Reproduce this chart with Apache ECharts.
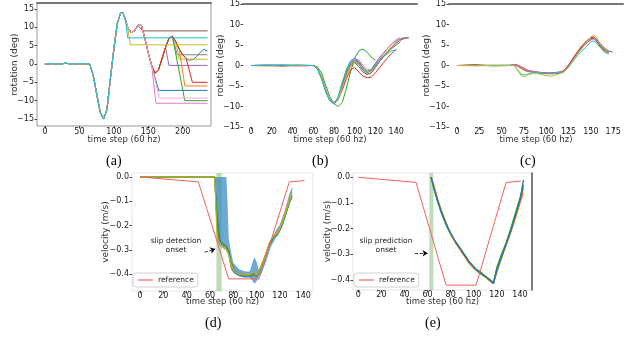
<!DOCTYPE html>
<html>
<head>
<meta charset="utf-8">
<script src="https://cdn.jsdelivr.net/npm/echarts@6.0.0/dist/echarts.min.js"></script>
<style>
html, body { margin: 0; padding: 0; background: #fff; }
#main { width: 640px; height: 353px; }
</style>
</head>
<body>
<div id="main"></div>
<script>
// tab10 colours, like matplotlib
const C = {blue:'#1f77b4', orange:'#ff7f0e', green:'#2ca02c', red:'#d62728', purple:'#9467bd',
  brown:'#8c564b', pink:'#e377c2', gray:'#7f7f7f', olive:'#bcbd22', cyan:'#17becf'}

// ---- (a) rotation, trials that stop and hold ----
const aTime = [0,10,20,30,40,50,60,65,70,75,80,85,90,95,100,105,110,113,117,120,125,130,135,140,145,150,155,160,165,170,175,180,185,190,195,200,205,210,215,220,225,230,236]
const aMean = [0,0.1,-0.1,0.2,-0.1,0.1,0,0,-3,-8,-13,-15,-12.5,-4,4,11,14,14,12,10,8.5,9,10.5,10.5,7,3,-0.5,-2.5,-1.5,1.5,4.5,7,7.5,6,4,2.5,1.5,1,1.2,2,3,4,3.5]
const aHoldColor = ['blue','pink','purple','gray','olive','green','orange','red','brown','olive','pink','cyan']
const aHoldFrom  = [158, 156, 177, 189, 190, 186, 196, 205, 138, 120, 159, 117]
const aHoldAt    = [165, 161, 180, 192, 195, 203, 203, 214, 142, 124, 166, 120]
const aHoldLevel = [-7.2, -10.7, -0.4, 2.5, 1.3, -10, -6, -5, 9, 5.2, -9.3, 7.1]
const aEnd = 236

// ---- (b) rotation ----
const bTime = [0,15,30,45,60,64,68,72,76,80,84,88,92,96,100,104,108,112,116,120,124,128,132,136,140,144,148,152]
const bBlue   = [0,0,0.1,0,0,-0.8,-3.2,-6.3,-8.6,-9.3,-8,-4.8,-1.5,0.6,1.5,0.8,-0.6,-1.6,-1.2,0.3,1.5,2.5,3.3,4.2,5,5.8,null,null]
const bOrange = [0,0.1,0,-0.1,0,-0.6,-2.8,-6,-8.4,-9.2,-8.3,-5.5,-2.5,-0.2,0.8,0.2,-1,-2,-1.8,-0.3,1,2.2,3.3,4.4,5.4,6.3,6.7,null]
const bGreen  = [0,-0.1,0.1,0,0,-0.3,-1.8,-4.8,-7.6,-9.3,-10,-9,-5.5,-1.5,1.8,3.6,4,3.2,2,1.3,null,null,null,null,null,null,null,null]
const bRed    = [0,0,-0.1,0.1,0,-0.7,-3,-6.2,-8.5,-9,-8.2,-6,-3.2,-1,-0.5,-1.6,-2.6,-3,-2.8,-1.8,-0.5,0.8,2,3,4,null,null,null]
const bPurple = [0,0.1,0,0,0,-0.7,-3,-6.2,-8.6,-9.4,-8,-4.5,-1,1.2,1.8,1,-0.5,-1.4,-0.9,0.6,2,3.2,4.3,5.3,6,6.5,6.8,6.7]
const bBrown  = [0,0,-0.1,0,0,-0.6,-2.9,-6,-8.5,-9.2,-8.4,-5.2,-2,0.2,0.7,-0.3,-1.6,-2.2,-1.8,-0.5,1,2.3,3.5,4.6,5.6,6.2,6.6,6.8]
const bPink   = [0,0,0.1,-0.1,0,-0.5,-2.6,-5.8,-8.2,-9,-8.3,-5.6,-2.2,0.5,1.6,1.4,0,-1,-1,0,1.6,3,4.3,5.4,6.3,6.8,null,null]
const bGray   = [0,0.1,0,0,0,-0.7,-3,-6.2,-8.5,-9.2,-8.1,-5,-1.8,0.4,1.2,0.6,-0.8,-1.6,-1.3,0,1.3,2.5,3.6,4.6,5.5,6.2,6.6,null]
const bOlive  = [0,0,0,0,0,-0.6,-2.8,-6,-8.4,-9.1,-8.2,-5.4,-2.4,0,0.9,0.4,-0.8,-1.5,-1.4,-0.2,1.2,2.5,3.6,4.7,5.6,6.3,null,null]
const bCyan   = [0,0,0,0.1,0,-0.8,-3.3,-6.4,-8.6,-9.3,-7.6,-4,-1,1,1.3,0.2,-1.2,-1.8,-1.2,0,1.2,2.2,3,3.6,3.8,null,null,null]

// ---- (c) rotation ----
const cTime = [0,20,40,60,64,68,72,76,80,85,90,95,100,105,110,115,120,125,130,135,140,145,150,153,156,160,165,170,174]
const cBlue   = [0,0,0,0.1,0.2,0,-0.6,-1,-1.3,-1.5,-1.7,-1.8,-1.9,-2,-2,-1.9,-1.5,-0.3,1.4,3,4.3,5.4,6.5,6.8,6.5,5.5,4.2,3.5,3.3]
const cOrange = [0,0.1,0,0,0.1,-0.2,-0.8,-1.3,-1.5,-1.6,-1.8,-2,-2,-1.9,-1.8,-1.7,-1.3,0,1.5,3.2,4.6,5.8,6.8,7,6.3,4.8,3.5,3,null]
const cGreen  = [0,0,0,0,0.1,-0.1,-0.6,-1.1,-1.4,-1.6,-1.7,-1.8,-1.9,-1.9,-1.8,-1.6,-1.3,0,1.5,3.1,4.4,5.5,6.3,6.5,6,4.8,3.7,3.2,null]
const cRed    = [0,0.2,-0.1,0,0.3,0.1,-0.3,-0.8,-1.2,-1.4,-1.6,-1.7,-1.8,-1.8,-1.7,-1.6,-1.2,0.2,1.8,3.4,4.8,6,6.8,6.9,6.3,5,3.8,3.2,null]
const cPurple = [0,0,0,0,0.2,0,-0.5,-1,-1.3,-1.6,-1.8,-1.9,-2,-2,-1.9,-1.7,-1.3,-0.1,1.5,3,4.4,5.6,6.4,6.6,6.4,5.5,4.3,3.5,3.3]
const cPink   = [0,0,0,0,0.2,0,-0.5,-0.9,-1.2,-1.5,-1.7,-1.8,-1.9,-1.9,-1.8,-1.7,-1.3,-0.2,1.3,2.9,4.2,5.4,6.2,6.5,6.2,5.2,4,3.3,null]
const cCyan   = [0,0,0.1,0,0,-1,-2.2,-2.3,-2,-1.7,-1.6,-1.8,-2,-2,-1.9,-1.8,-1.5,-0.5,1,2.5,3.6,4.6,5.8,6,5.6,4.5,3.3,2.8,null]
const cOlive  = [0,-0.1,0,0,0,-1.2,-2.5,-2.7,-2.3,-2,-2,-2.2,-2.5,-2.6,-2.4,-2,-1.6,-0.3,1.2,2.8,4.2,5.6,7,7.4,7,5.5,4,3,null]

// ---- (d) velocity, slip detection ----
const dTime   = [0,64,66,68,70,73,76,78,81,85,90,95,98,100,103,107,111,115,118,122,126,130]
const dGray   = [0,0,-0.2,-0.26,-0.27,-0.28,-0.3,-0.36,-0.39,-0.4,-0.405,-0.4,-0.4,-0.405,-0.38,-0.33,-0.27,-0.24,-0.235,-0.19,-0.13,-0.07]
const dBlue   = [0,0,-0.15,-0.25,-0.28,-0.285,-0.31,-0.37,-0.395,-0.405,-0.41,-0.405,-0.395,-0.41,-0.385,-0.335,-0.28,-0.245,-0.24,-0.2,-0.14,-0.08]
const dOrange = [0,0,-0.22,-0.27,-0.28,-0.29,-0.32,-0.37,-0.39,-0.4,-0.4,-0.41,-0.4,-0.4,-0.375,-0.325,-0.27,-0.24,-0.23,-0.185,-0.12,-0.065]
const dGreen  = [0,0,-0.18,-0.26,-0.275,-0.28,-0.305,-0.35,-0.385,-0.4,-0.405,-0.41,-0.405,-0.41,-0.38,-0.33,-0.275,-0.245,-0.235,-0.195,-0.135,-0.075]
const dOlive  = [0,0,-0.25,-0.27,-0.285,-0.29,-0.32,-0.36,-0.39,-0.4,-0.405,-0.4,-0.39,-0.405,-0.38,-0.33,-0.27,-0.24,-0.235,-0.19,-0.13,-0.07]
const dBandTime  = [64,65,66,68,70,73,74,75,76,78,80,85,90,94,96,98,100,102,104,108,112,116,120,124,128,130.5]
const dBandUpper = [0,0,0,0,0,0,0,-0.1,-0.25,-0.31,-0.355,-0.38,-0.39,-0.39,-0.36,-0.33,-0.35,-0.385,-0.375,-0.325,-0.265,-0.225,-0.195,-0.14,-0.07,-0.04]
const dBandLower = [0,-0.1,-0.26,-0.28,-0.29,-0.3,-0.3,-0.31,-0.33,-0.38,-0.395,-0.41,-0.415,-0.415,-0.425,-0.44,-0.43,-0.41,-0.4,-0.35,-0.29,-0.255,-0.225,-0.17,-0.11,-0.09]

// ---- (e) velocity, slip prediction ----
const eTime   = [63,66,69,72,75,78,81,84,87,90,93,96,99,102,105,108,111,114,117,120,124,128,132,136,140,143]
const eBlue   = [0,-0.05,-0.095,-0.135,-0.17,-0.2,-0.225,-0.25,-0.27,-0.29,-0.31,-0.33,-0.345,-0.36,-0.37,-0.38,-0.39,-0.4,-0.413,-0.36,-0.31,-0.26,-0.21,-0.15,-0.09,-0.01]
const eOrange = [0,-0.04,-0.09,-0.13,-0.165,-0.2,-0.23,-0.255,-0.275,-0.295,-0.315,-0.335,-0.35,-0.362,-0.372,-0.383,-0.392,-0.405,-0.41,-0.37,-0.315,-0.265,-0.215,-0.16,-0.1,-0.06]
const eGreen  = [0,-0.055,-0.1,-0.14,-0.175,-0.205,-0.23,-0.25,-0.268,-0.288,-0.308,-0.328,-0.343,-0.358,-0.365,-0.378,-0.388,-0.398,-0.41,-0.35,-0.3,-0.255,-0.2,-0.14,-0.08,-0.03]
const eGray   = [0,-0.045,-0.092,-0.133,-0.168,-0.202,-0.228,-0.252,-0.272,-0.292,-0.312,-0.332,-0.347,-0.36,-0.375,-0.38,-0.39,-0.402,-0.415,-0.365,-0.312,-0.262,-0.208,-0.155,-0.095,-0.04]

// reference trajectory (same for d and e)
const refTime = [0,50,76,102,128,141]
const refVel  = [0,-0.02,-0.42,-0.42,-0.02,-0.015]

// tick labels
const rotTicks = [-15,-10,-5,0,5,10,15]
const velTicks = [-0.4,-0.3,-0.2,-0.1,0]
const aXTicks = [0,50,100,150,200]
const bXTicks = [0,20,40,60,80,100,120,140]
const cXTicks = [0,25,50,75,100,125,150,175]
const deXTicks = [0,20,40,60,80,100,120,140]

const pair = (xs, ys) => xs.map((x, i) => [x, ys[i]])
const minus = s => String(s).replace('-', '\u2212')

const font = 'DejaVu Sans'
function xAx(grid, min, max, ticks, gap, margin) {
  return {
    type: 'value', gridIndex: grid, min: min, max: max,
    name: 'time step (60 hz)', nameLocation: 'middle', nameGap: gap, nameMoveOverlap: false,
    nameTextStyle: {fontFamily: font, fontSize: 8.5, color: '#333', verticalAlign: 'top'},
    axisLine: {show: false, onZero: false},
    axisTick: {show: true, length: 2.5, lineStyle: {color: '#444'}, customValues: ticks},
    axisLabel: {fontFamily: font, fontSize: 8, color: '#222', margin: margin, customValues: ticks},
    splitLine: {show: false}
  }
}
function yAx(grid, min, max, ticks, name, gap, fmt) {
  return {
    type: 'value', gridIndex: grid, min: min, max: max,
    name: name, nameLocation: 'middle', nameGap: gap, nameMoveOverlap: false,
    nameTextStyle: {fontFamily: font, fontSize: 9, color: '#333'},
    axisLine: {show: false, onZero: false},
    axisTick: {show: true, length: 2.5, lineStyle: {color: '#444'}, customValues: ticks},
    axisLabel: {fontFamily: font, fontSize: 8, color: '#222', margin: 3, customValues: ticks, formatter: fmt},
    splitLine: {show: false}
  }
}
function topLine(grid) {
  return {type: 'value', gridIndex: grid, position: 'top', min: 0, max: 1,
    axisLine: {show: true, onZero: false, lineStyle: {color: '#777', width: 2}},
    axisTick: {show: false}, axisLabel: {show: false}, splitLine: {show: false}}
}
const rotFmt = v => minus(v)
const velFmt = v => minus(v.toFixed(1) === '-0.0' ? '0.0' : v.toFixed(1))

function trace(xi, data, color, width) {
  return {type: 'line', xAxisIndex: xi, yAxisIndex: xi, data: data, showSymbol: false, symbol: 'none',
    connectNulls: false, animation: false, silent: true,
    lineStyle: {color: color, width: width || 1}, z: 3}
}

const series = []

// (a)
series.push(trace(0, pair(aTime, aMean), C.blue))
aHoldColor.forEach((c, k) => {
  const pts = pair(aTime, aMean).filter(p => p[0] <= aHoldFrom[k])
  pts.push([aHoldAt[k], aHoldLevel[k]], [aEnd, aHoldLevel[k]])
  series.push(trace(0, pts, c === 'pink' && k === 10 ? '#f2a8dc' : C[c]))
})

// (b)
;[[bBlue,'blue'],[bOrange,'orange'],[bGreen,'green'],[bRed,'red'],[bPurple,'purple'],[bBrown,'brown'],
  [bPink,'pink'],[bGray,'gray'],[bOlive,'olive'],[bCyan,'cyan']].forEach(s => series.push(trace(1, pair(bTime, s[0]), C[s[1]])))

// (c)
;[[cBlue,'blue'],[cOrange,'orange'],[cGreen,'green'],[cRed,'red'],[cPurple,'purple'],[cPink,'pink'],
  [cCyan,'cyan'],[cOlive,'olive']].forEach(s => series.push(trace(2, pair(cTime, s[0]), C[s[1]])))

// (d) blue spread band
series.push({
  type: 'custom', xAxisIndex: 3, yAxisIndex: 3, data: [0], silent: true, animation: false, z: 2,
  renderItem: (params, api) => {
    const up = dBandTime.map((t, i) => api.coord([t, dBandUpper[i]]))
    const lo = dBandTime.map((t, i) => api.coord([t, dBandLower[i]])).reverse()
    return {type: 'polygon', shape: {points: up.concat(lo)}, style: {fill: 'rgba(60,140,195,0.75)'}}
  }
})
;[[dGray,'gray'],[dBlue,'blue'],[dOrange,'orange'],[dGreen,'green'],[dOlive,'olive']]
  .forEach(s => series.push(trace(3, pair(dTime, s[0]), C[s[1]], 1)))
series.push({
  name: 'reference', type: 'line', xAxisIndex: 3, yAxisIndex: 3, data: pair(refTime, refVel),
  showSymbol: false, symbol: 'none', animation: false, lineStyle: {color: '#f26060', width: 1}, itemStyle: {color: '#f26060'}, z: 4,
  markArea: {silent: true, itemStyle: {color: 'rgba(150,195,135,0.6)'}, data: [[{xAxis: 65.5}, {xAxis: 70}]]},
  markLine: {silent: true, symbol: ['none', 'arrow'], symbolSize: 5, label: {show: false},
    lineStyle: {color: '#000', type: 'dashed', width: 0.8},
    data: [[{coord: [55.5, -0.31]}, {coord: [64.5, -0.297]}]]}
})

// (e)
;[[eGray,'gray'],[eGreen,'green'],[eOrange,'orange'],[eBlue,'blue']]
  .forEach(s => series.push(trace(4, pair(eTime, s[0]), C[s[1]], 1.3)))
series.push({
  name: 'reference', type: 'line', xAxisIndex: 4, yAxisIndex: 4, data: pair(refTime, refVel),
  showSymbol: false, symbol: 'none', animation: false, lineStyle: {color: '#f26060', width: 1}, itemStyle: {color: '#f26060'}, z: 4,
  markArea: {silent: true, itemStyle: {color: 'rgba(150,195,135,0.6)'}, data: [[{xAxis: 61.5}, {xAxis: 65}]]},
  markLine: {silent: true, symbol: ['none', 'arrow'], symbolSize: 5, label: {show: false},
    lineStyle: {color: '#000', type: 'dashed', width: 0.8},
    data: [[{coord: [49, -0.296]}, {coord: [60, -0.296]}]]}
})

const legendBase = {
  data: [{name: 'reference', icon: 'rect'}], top: 273, orient: 'horizontal', itemWidth: 15, itemHeight: 1.2,
  itemGap: 4, padding: [3, 4, 3, 5],
  borderColor: '#d0d0d0', borderWidth: 1, borderRadius: 3, backgroundColor: '#fff',
  textStyle: {fontFamily: font, fontSize: 7.5, color: '#222'}, selectedMode: false
}

const captionStyle = {font: '14px "Liberation Serif"', fill: '#000', textAlign: 'center'}
const noteStyle = {font: '7.5px "DejaVu Sans"', fill: '#222', textAlign: 'center'}

const myChart = echarts.init(document.getElementById('main'))
myChart.setOption({
  animation: false,
  grid: [
    {left: 37, top: 3, width: 174, height: 123, show: true, borderColor: '#999', borderWidth: 1},
    {left: 243, top: 3, width: 174, height: 124},
    {left: 449, top: 3, width: 174, height: 124},
    {left: 132, top: 173, width: 181, height: 118, show: true, borderColor: '#e4e4e4', borderWidth: 1},
    {left: 353, top: 173, width: 179, height: 117, show: true, borderColor: '#e4e4e4', borderWidth: 1}
  ],
  xAxis: [
    xAx(0, -11.5, 241, aXTicks, 9, 2),
    xAx(1, -7.7, 160, bXTicks, 8, 1),
    xAx(2, -9, 186, cXTicks, 8, 1),
    xAx(3, -6.9, 148.3, deXTicks, 6, 1),
    xAx(4, -4.6, 150.4, deXTicks, 7, 1),
    topLine(0), topLine(1), topLine(2)
  ],
  yAxis: [
    yAx(0, -16.9, 16.6, rotTicks, 'rotation (deg)', 18, rotFmt),
    yAx(1, -15, 15, rotTicks, 'rotation (deg)', 18, rotFmt),
    yAx(2, -15, 15, rotTicks, 'rotation (deg)', 18, rotFmt),
    yAx(3, -0.47, 0.0165, velTicks, 'velocity (m/s)', 22, velFmt),
    yAx(4, -0.439, 0.0167, velTicks, 'velocity (m/s)', 21, velFmt),
    {type: 'value', gridIndex: 4, position: 'right', min: 0, max: 1,
      axisLine: {show: true, onZero: false, lineStyle: {color: '#555', width: 1.5}},
      axisTick: {show: false}, axisLabel: {show: false}, splitLine: {show: false}}
  ],
  legend: [
    Object.assign({left: 133}, legendBase),
    Object.assign({left: 354}, legendBase)
  ],
  graphic: [
    {type: 'text', left: 106, top: 154, style: Object.assign({text: '(a)'}, captionStyle)},
    {type: 'text', left: 312, top: 154, style: Object.assign({text: '(b)'}, captionStyle)},
    {type: 'text', left: 520, top: 154, style: Object.assign({text: '(c)'}, captionStyle)},
    {type: 'text', left: 205, top: 316, style: Object.assign({text: '(d)'}, captionStyle)},
    {type: 'text', left: 425, top: 316, style: Object.assign({text: '(e)'}, captionStyle)},
    {type: 'text', x: 176, y: 237, style: Object.assign({text: 'slip detection\nonset', lineHeight: 9}, noteStyle)},
    {type: 'text', x: 386, y: 237, style: Object.assign({text: 'slip prediction\nonset', lineHeight: 9}, noteStyle)}
  ],
  series: series
})
</script>
</body>
</html>
